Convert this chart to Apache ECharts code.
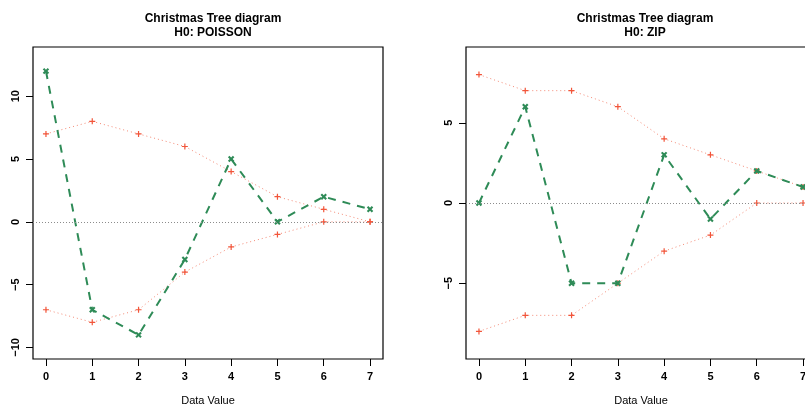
<!DOCTYPE html>
<html><head><meta charset="utf-8">
<script src="https://cdn.jsdelivr.net/npm/echarts@6/dist/echarts.min.js"></script>
<style>html,body{margin:0;padding:0;background:#fff}#c{width:805px;height:405px}</style>
</head><body><div id="c"></div>
<script>
var categories = [0, 1, 2, 3, 4, 5, 6, 7];
var xTicks = [0, 1, 2, 3, 4, 5, 6, 7];
// Left panel: H0 POISSON
var poissonObserved = [12, -7, -9, -3, 5, 0, 2, 1];
var poissonUpper = [7, 8, 7, 6, 4, 2, 1, 0];
var poissonLower = [-7, -8, -7, -4, -2, -1, 0, 0];
var poissonYTicks = [-10, -5, 0, 5, 10];
// Right panel: H0 ZIP
var zipObserved = [0, 6, -5, -5, 3, -1, 2, 1];
var zipUpper = [8, 7, 7, 6, 4, 3, 2, 1];
var zipLower = [-8, -7, -7, -5, -3, -2, 0, 0];
var zipYTicks = [-5, 0, 5];

var titles = ['Christmas Tree diagram\nH0: POISSON', 'Christmas Tree diagram\nH0: ZIP'];
var xName = 'Data Value';

function pairs(vals) { return categories.map(function (c, i) { return [c, vals[i]]; }); }

var FONT = 'Liberation Sans, Arial, Helvetica, sans-serif';
var RED = '#F2553A', RED_LINE = '#F58A76', GREEN = '#2E8B57';
var PLUS = 'path://M4,0 H6 V4 H10 V6 H6 V10 H4 V6 H0 V4 H4 Z';
var CROSS = 'path://M3.5,0 H6.5 V3.5 H10 V6.5 H6.5 V10 H3.5 V6.5 H0 V3.5 H3.5 Z';
function fmt(v) { return String(v).replace('-', '\u2212'); }

function xAxisOf(gi) {
  return {
    type: 'value', gridIndex: gi, min: -0.28, max: 7.28,
    axisLine: { show: false, onZero: false },
    axisTick: { show: true, inside: false, length: 7, customValues: xTicks, lineStyle: { color: '#000', width: 1 } },
    axisLabel: { customValues: xTicks, margin: 12, fontFamily: FONT, fontWeight: 'bold', fontSize: 11, color: '#000', formatter: fmt },
    splitLine: { show: false },
    name: xName, nameLocation: 'middle', nameGap: 36,
    nameTextStyle: { fontFamily: FONT, fontSize: 11, color: '#000' }
  };
}
function yAxisOf(gi, mn, mx, ticks) {
  return {
    type: 'value', gridIndex: gi, min: mn, max: mx,
    axisLine: { show: false, onZero: false },
    axisTick: { show: true, inside: false, length: 7, customValues: ticks, lineStyle: { color: '#000', width: 1 } },
    axisLabel: { customValues: ticks, rotate: 90, margin: 12, fontFamily: FONT, fontWeight: 'bold', fontSize: 11, color: '#000', formatter: fmt },
    splitLine: { show: false }
  };
}
function seriesOf(gi, obs, up, lo) {
  var s = [];
  [up, lo].forEach(function (v, k) {
    var o = {
      type: 'line', xAxisIndex: gi, yAxisIndex: gi, data: pairs(v), z: 3,
      symbol: PLUS, symbolSize: 6, showAllSymbol: true,
      itemStyle: { color: RED },
      lineStyle: { color: RED_LINE, width: 1, type: [1, 3] },
      animation: false
    };
    if (k === 0) {
      o.markLine = {
        silent: true, symbol: 'none', label: { show: false }, animation: false,
        lineStyle: { color: '#8c8c8c', width: 1, type: [1, 2] },
        data: [{ yAxis: 0 }]
      };
    }
    s.push(o);
  });
  s.push({
    type: 'line', xAxisIndex: gi, yAxisIndex: gi, data: pairs(obs), z: 4,
    symbol: CROSS, symbolSize: 7, symbolRotate: 45, showAllSymbol: true,
    itemStyle: { color: GREEN },
    lineStyle: { color: GREEN, width: 2, type: [8, 7] },
    animation: false
  });
  return s;
}

var chart = echarts.init(document.getElementById('c'), null, { renderer: 'canvas' });
chart.setOption({
  animation: false,
  backgroundColor: '#fff',
  title: [
    { text: titles[0], left: 208, top: 7, textAlign: 'center',
      textStyle: { fontFamily: FONT, fontSize: 12, fontWeight: 'bold', color: '#000', lineHeight: 14 } },
    { text: titles[1], left: 640, top: 7, textAlign: 'center',
      textStyle: { fontFamily: FONT, fontSize: 12, fontWeight: 'bold', color: '#000', lineHeight: 14 } }
  ],
  grid: [
    { left: 33, top: 47, width: 350, height: 312, containLabel: false, outerBoundsMode: 'none', show: true, borderColor: '#000', borderWidth: 1.2, backgroundColor: 'transparent' },
    { left: 466, top: 47, width: 350, height: 312, containLabel: false, outerBoundsMode: 'none', show: true, borderColor: '#000', borderWidth: 1.2, backgroundColor: 'transparent' }
  ],
  xAxis: [xAxisOf(0), xAxisOf(1)],
  yAxis: [yAxisOf(0, -10.92, 13.92, poissonYTicks), yAxisOf(1, -9.72, 9.72, zipYTicks)],
  series: seriesOf(0, poissonObserved, poissonUpper, poissonLower).concat(seriesOf(1, zipObserved, zipUpper, zipLower))
});
</script></body></html>
